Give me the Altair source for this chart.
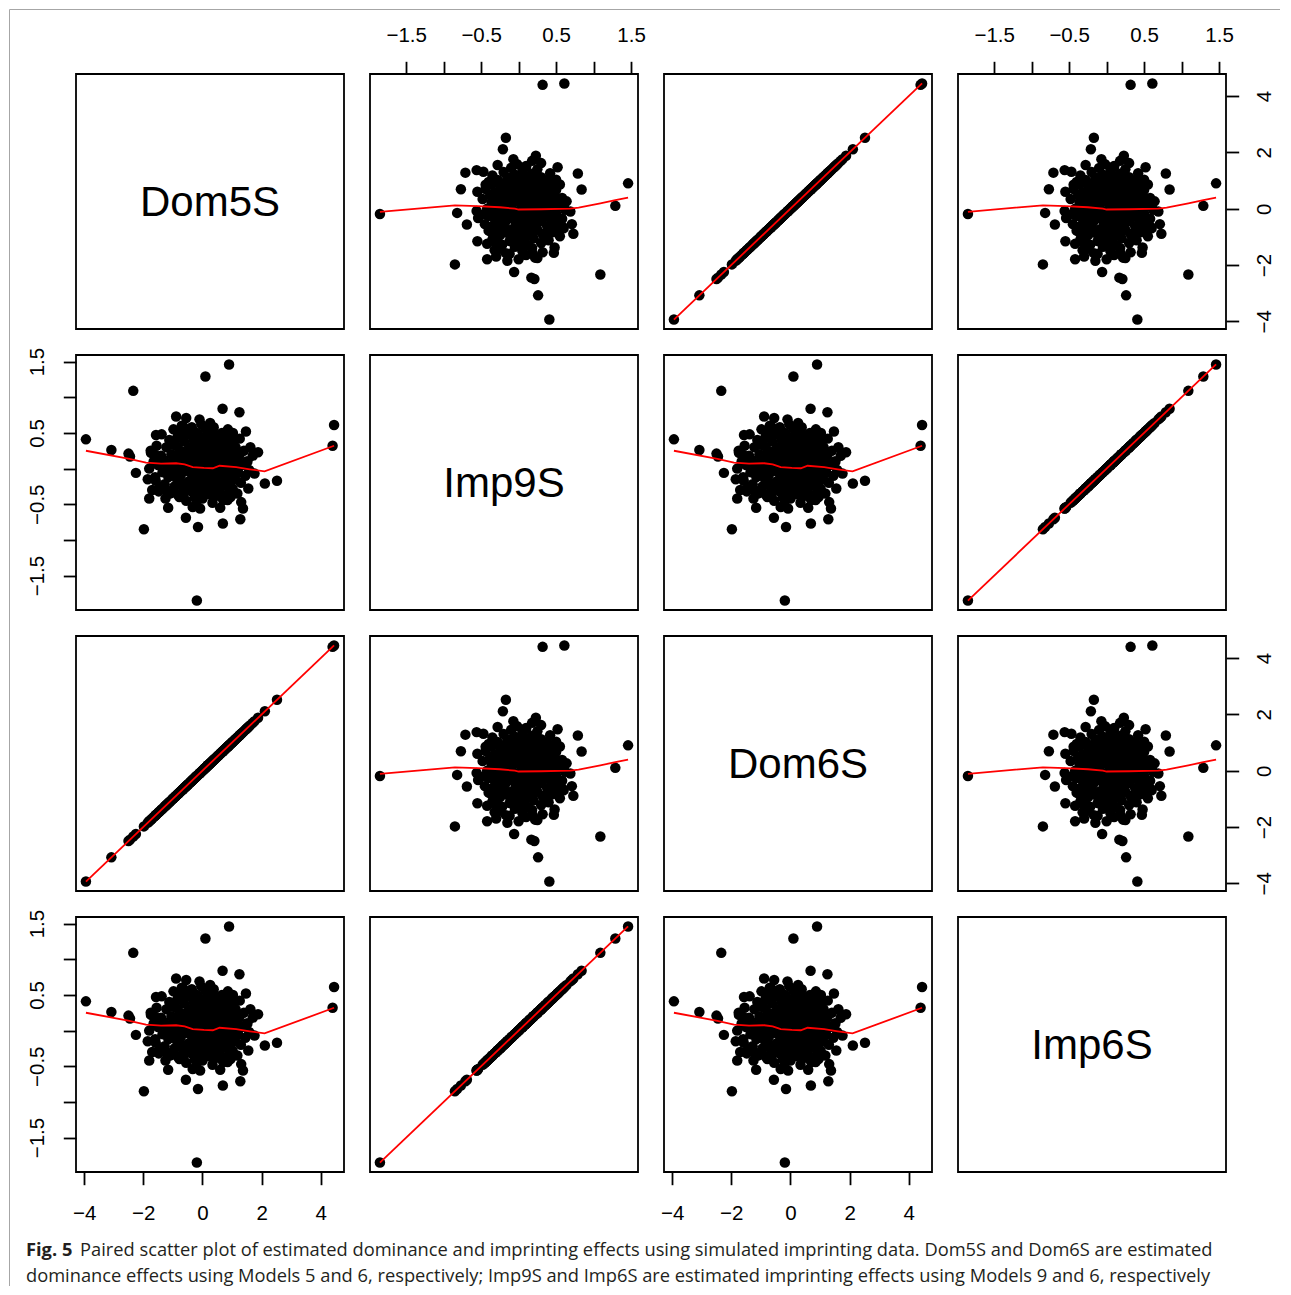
import altair as alt
import pandas as pd

# ---------------- data ----------------
dom5s = [
    -0.19, 4.45, 4.40, 0.90, 0.10, -2.34, -3.94, -1.98, -3.08, -2.50,
    -2.45, -2.25, -1.57, 2.52, 2.11, 1.25, 0.68, 1.47, 1.88, 1.28,
    0.69, -0.15, -0.56, -1.16, -1.80, 1.37, 1.31, 0.60, 1.55, 0.26,
    -0.55, -0.89, -0.10, -1.80, -1.85, -1.58, -1.48, -1.23, -0.08, -0.33,
    -0.66, 1.52, 1.25, 0.86, 1.03, -1.74, -1.60, 1.76, -0.65, -0.77,
    -1.35, -1.30, -1.28, -1.22, -1.20, -1.15, -1.12, -1.10, -1.05, -1.02,
    -0.98, -0.95, -0.92, -0.90, -0.86, -0.84, -0.80, -0.78, -0.75, -0.72,
    -0.70, -0.68, -0.65, -0.62, -0.60, -0.58, -0.55, -0.52, -0.50, -0.48,
    -0.45, -0.43, -0.40, -0.38, -0.36, -0.34, -0.32, -0.30, -0.28, -0.26,
    -0.24, -0.22, -0.20, -0.18, -0.16, -0.14, -0.12, -0.10, -0.08, -0.06,
    -0.04, -0.02, 0.00, 0.02, 0.04, 0.06, 0.08, 0.10, 0.12, 0.14,
    0.16, 0.18, 0.20, 0.22, 0.24, 0.26, 0.28, 0.30, 0.32, 0.34,
    0.36, 0.38, 0.40, 0.42, 0.44, 0.46, 0.48, 0.50, 0.52, 0.54,
    0.56, 0.58, 0.60, 0.62, 0.64, 0.66, 0.68, 0.70, 0.72, 0.74,
    0.76, 0.78, 0.80, 0.82, 0.84, 0.86, 0.88, 0.90, 0.92, 0.95,
    0.98, 1.00, 1.02, 1.05, 1.08, 1.10, 1.12, 1.15, 1.18, 1.20,
    1.22, 1.26, 1.30, 1.34, 1.40, 1.45, 1.50, 1.58, 1.62, 1.70,
    -1.40, -1.45, -1.50, -1.55, -1.60, -1.65, -1.70, -1.75, -1.38, -1.25,
    -0.60, -0.50, -0.40, -0.30, -0.20, -0.10, 0.00, 0.10, 0.20, 0.30,
    0.40, 0.50, 0.60, 0.70, 0.80, 0.90, -0.80, -0.90, -1.00, -0.70,
    -0.25, -0.15, 0.05, 0.15, 0.25, 0.35, 0.45, 0.55, 0.65, 0.75,
    -1.00, -0.85, -0.70, -0.55, -0.40, -0.25, -0.10, 0.05, 0.20, 0.35,
    0.50, 0.65, 0.80, 0.95, 1.10, -1.10, -0.95, -0.80, -0.65, -0.50,
    -0.35, -0.20, -0.05, 0.10, 0.25, 0.40, 0.55, 0.70, 0.85, 1.00,
]
imp9s = [
    -1.85, 0.61, 0.32, 1.46, 1.29, 1.09, 0.41, -0.85, 0.26, 0.21,
    0.17, -0.06, 0.47, -0.17, -0.21, 0.79, 0.84, 0.52, 0.23, -0.71,
    -0.77, -0.82, -0.69, -0.55, -0.42, -0.56, -0.47, -0.55, -0.28, 0.64,
    0.71, 0.73, 0.69, 0.00, -0.15, -0.17, -0.32, -0.30, -0.56, -0.54,
    -0.39, 0.10, 0.19, 0.55, 0.50, 0.22, 0.19, -0.07, 0.59, 0.53,
    -0.05, 0.12, -0.22, 0.30, 0.05, -0.12, 0.40, -0.35, 0.20, -0.02,
    0.55, -0.25, 0.10, 0.32, -0.15, 0.45, 0.02, -0.40, 0.25, -0.08,
    0.60, 0.15, -0.30, 0.38, -0.02, 0.22, -0.45, 0.08, 0.48, -0.18,
    0.30, -0.05, 0.12, -0.32, 0.58, 0.20, -0.12, 0.40, 0.02, -0.40,
    0.28, -0.22, 0.10, 0.50, -0.06, 0.18, -0.30, 0.35, 0.00, -0.15,
    0.62, 0.24, -0.42, 0.08, 0.44, -0.10, 0.16, -0.28, 0.32, 0.04,
    -0.20, 0.52, 0.12, -0.36, 0.26, -0.04, 0.40, -0.16, 0.20, -0.48,
    0.06, 0.58, -0.26, 0.30, -0.08, 0.14, -0.38, 0.46, 0.02, -0.18,
    0.24, -0.32, 0.36, 0.08, -0.12, 0.50, 0.18, -0.44, 0.28, -0.02,
    0.10, -0.24, 0.40, -0.10, 0.20, -0.36, 0.04, 0.30, -0.18, 0.14,
    -0.05, 0.38, -0.28, 0.22, 0.00, -0.15, 0.30, 0.08, -0.35, 0.16,
    -0.06, 0.42, -0.20, 0.05, 0.25, -0.10, 0.10, -0.02, 0.30, 0.18,
    0.18, -0.28, 0.05, 0.32, -0.12, 0.10, -0.30, 0.25, 0.48, -0.42,
    0.05, -0.25, 0.20, -0.10, 0.30, -0.20, 0.15, 0.25, -0.10, 0.05,
    0.35, -0.12, 0.15, 0.05, -0.05, 0.20, 0.20, -0.05, 0.10, -0.20,
    0.15, 0.45, 0.35, -0.35, 0.45, -0.30, 0.25, 0.38, -0.22, 0.35,
    0.34, -0.36, 0.44, -0.24, 0.54, 0.06, -0.34, 0.42, -0.08, 0.52,
    -0.26, 0.12, 0.46, -0.40, 0.26, 0.00, 0.36, -0.14, -0.38, 0.14,
    0.48, -0.46, 0.22, 0.56, -0.24, 0.10, -0.06, 0.46, -0.44, 0.00,
]
dom6s = list(dom5s)   # Dom6S estimates coincide with Dom5S in the figure
imp6s = list(imp9s)   # Imp6S estimates coincide with Imp9S in the figure

# red smoothers
smooth_imp_x = [-1.85, -0.85, -0.55, -0.25, -0.05, 0.00, 0.30, 0.69, 0.80, 1.09, 1.29, 1.46]
smooth_dom_y = [-0.11, 0.12, 0.09, 0.05, 0.00, -0.03, -0.02, 0.00, 0.04, 0.19, 0.30, 0.39]
smooth_dom_x = [-3.94, -2.47, -1.91, -1.40, -0.89, -0.60, -0.33, 0.05, 0.35, 0.58, 1.14, 1.60, 2.10, 4.45]
smooth_imp_y = [0.25, 0.137, 0.085, 0.07, 0.075, 0.06, 0.02, 0.01, 0.005, 0.04, 0.02, -0.01, -0.04, 0.32]
smooth_dom_diag = [-3.94, 4.45]
smooth_imp_diag = [-1.85, 1.46]

names = ["Dom5S", "Imp9S", "Dom6S", "Imp6S"]
values = {"Dom5S": dom5s, "Imp9S": imp9s, "Dom6S": dom6s, "Imp6S": imp6s}
kind = {"Dom5S": "dom", "Imp9S": "imp", "Dom6S": "dom", "Imp6S": "imp"}

dom_ticks = [-4, -2, 0, 2, 4]
imp_ticks = [-1.5, -1.0, -0.5, 0.0, 0.5, 1.0, 1.5]

caption_bold = "Fig. 5"
caption_line1 = ("Paired scatter plot of estimated dominance and imprinting effects using "
                 "simulated imprinting data. Dom5S and Dom6S are estimated")
caption_line2 = ("dominance effects using Models 5 and 6, respectively; Imp9S and Imp6S are "
                 "estimated imprinting effects using Models 9 and 6, respectively")

# ---------------- layout / style ----------------
PW, PH = 268, 255
FONT = "Liberation Sans"
CAP_FONT = "Open Sans"
LBL = 20.5


def rng(v):
    lo, hi = min(v), max(v)
    r = hi - lo
    return [lo - 0.04 * r, hi + 0.04 * r]


domains = {"dom": rng(dom5s), "imp": rng(imp9s)}


def make_axis(k, orient):
    common = dict(
        orient=orient, grid=False, domain=False, title=None,
        tickSize=12.7, tickWidth=1.8, tickColor="black",
        labelFont=FONT, labelFontSize=LBL, labelColor="black",
        labelFlush=False, labelOverlap=False,
    )
    if k == "dom":
        common.update(values=dom_ticks, format="d")
    else:
        common.update(
            values=imp_ticks, format=".1f",
            labelExpr="(abs(datum.value) == 1.5 || abs(datum.value) == 0.5) ? datum.label : ''",
        )
    if orient == "top":
        common.update(labelAngle=0, labelAlign="center", labelBaseline="alphabetic", labelPadding=19.5)
    elif orient == "bottom":
        common.update(labelAngle=0, labelAlign="center", labelBaseline="alphabetic", labelPadding=34.5)
    elif orient == "left":
        common.update(labelAngle=270, labelAlign="center", labelBaseline="alphabetic", labelPadding=19.5)
    else:
        common.update(labelAngle=270, labelAlign="center", labelBaseline="top", labelPadding=16)
    return alt.Axis(**common)


def smoother(kx, ky):
    if kx == "dom" and ky == "dom":
        return smooth_dom_diag, smooth_dom_diag
    if kx == "imp" and ky == "imp":
        return smooth_imp_diag, smooth_imp_diag
    if kx == "imp":
        return smooth_imp_x, smooth_dom_y
    return smooth_dom_x, smooth_imp_y


def panel(i, j):
    yn, xn = names[i], names[j]
    layers = []
    if i == j:
        layers.append(
            alt.Chart(pd.DataFrame({"name": [xn]}))
            .mark_text(font=FONT, fontSize=42, align="center", baseline="middle", color="black")
            .encode(text="name:N", x=alt.value(PW / 2), y=alt.value(PH / 2 + 1))
        )
        if i == 0:
            one = pd.DataFrame({"a": [0]})
            frame_style = dict(color="#a6a6a6", strokeWidth=1)
            layers.append(alt.Chart(one).mark_rule(**frame_style).encode(
                x=alt.value(-66.5), x2=alt.value(1204), y=alt.value(-64.5)))
            layers.append(alt.Chart(one).mark_rule(**frame_style).encode(
                x=alt.value(-66.5), y=alt.value(-64.5), y2=alt.value(1212)))
    else:
        kx, ky = kind[xn], kind[yn]
        xaxis = None
        if i == 0 and j % 2 == 1:
            xaxis = make_axis(kx, "top")
        elif i == 3 and j % 2 == 0:
            xaxis = make_axis(kx, "bottom")
        yaxis = None
        if j == 0 and i % 2 == 1:
            yaxis = make_axis(ky, "left")
        elif j == 3 and i % 2 == 0:
            yaxis = make_axis(ky, "right")
        xs = alt.Scale(domain=domains[kx], nice=False, zero=False)
        ys = alt.Scale(domain=domains[ky], nice=False, zero=False)
        df = pd.DataFrame({"x": values[xn], "y": values[yn]})
        layers.append(
            alt.Chart(df).mark_circle(size=110, color="black", opacity=1)
            .encode(x=alt.X("x:Q", scale=xs, axis=xaxis), y=alt.Y("y:Q", scale=ys, axis=yaxis))
        )
        sx, sy = smoother(kx, ky)
        layers.append(
            alt.Chart(pd.DataFrame({"x": sx, "y": sy})).mark_line(color="#ff0000", strokeWidth=1.8)
            .encode(x=alt.X("x:Q", scale=xs, axis=xaxis), y=alt.Y("y:Q", scale=ys, axis=yaxis))
        )
        if i == 3 and j == 0:
            cap = dict(font=CAP_FONT, fontSize=18.3, align="left", baseline="alphabetic", color="#231f20")
            layers.append(alt.Chart(pd.DataFrame({"t": [caption_bold]}))
                          .mark_text(fontWeight="bold", **cap)
                          .encode(text="t:N", x=alt.value(-50), y=alt.value(339)))
            layers.append(alt.Chart(pd.DataFrame({"t": [caption_line1]}))
                          .mark_text(**cap)
                          .encode(text="t:N", x=alt.value(4), y=alt.value(339)))
            layers.append(alt.Chart(pd.DataFrame({"t": [caption_line2]}))
                          .mark_text(**cap)
                          .encode(text="t:N", x=alt.value(-50), y=alt.value(365)))
    return alt.layer(*layers).properties(width=PW, height=PH)


panels = [panel(i, j) for i in range(4) for j in range(4)]

chart = (
    alt.concat(*panels, columns=4, spacing=26, bounds="flush", align="all")
    .properties(padding=0, background="white")
    .configure_view(stroke="black", strokeWidth=1.8)
)

chart.save("out.html", embed_options={"renderer": "svg", "actions": False})
